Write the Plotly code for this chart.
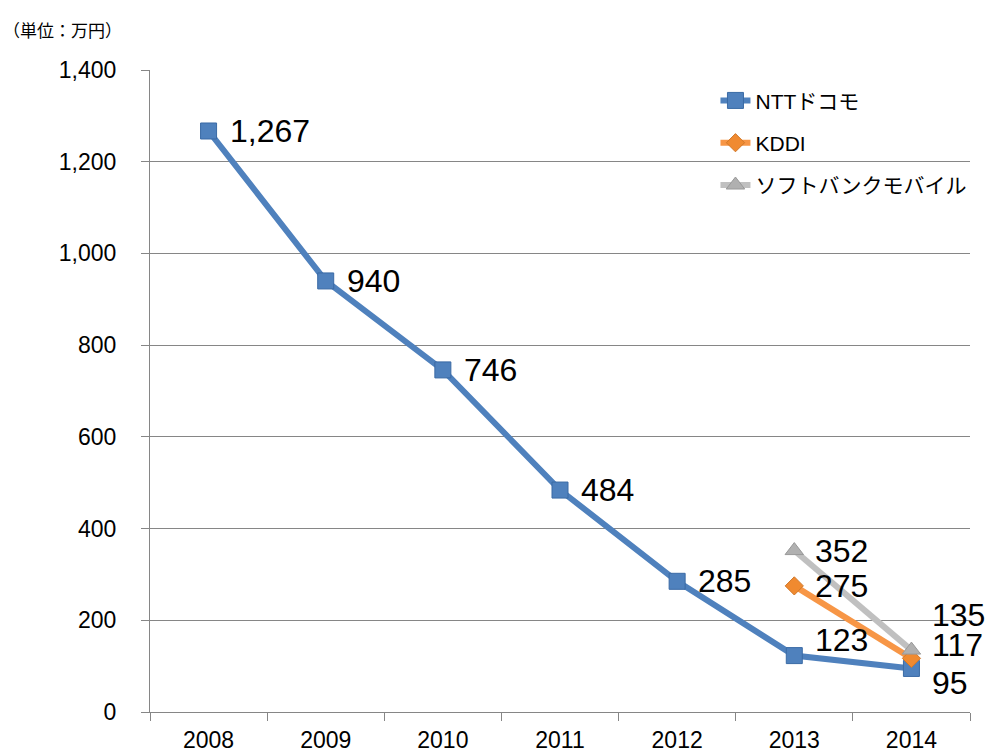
import plotly.graph_objects as go

years = ["2008", "2009", "2010", "2011", "2012", "2013", "2014"]
ntt = [1267, 940, 746, 484, 285, 123, 95]
kddi_years = ["2013", "2014"]
kddi = [275, 117]
sb_years = ["2013", "2014"]
sb = [352, 135]
y_ticks = [0, 200, 400, 600, 800, 1000, 1200, 1400]

fig = go.Figure()

fig.add_trace(go.Scatter(
    x=years, y=ntt, name="NTTドコモ", mode="lines+markers", legendgroup="a",
    line=dict(color="#4F81BD", width=6),
    marker=dict(symbol="square", size=16, color="#4F81BD",
                line=dict(color="#3A6AA5", width=1)),
))
fig.add_trace(go.Scatter(
    x=kddi_years, y=kddi, name="KDDI", mode="lines+markers", legendgroup="b",
    line=dict(color="#F79646", width=6),
    marker=dict(symbol="diamond", size=14, color="#F08A30",
                line=dict(color="#D0782A", width=1)),
))
fig.add_trace(go.Scatter(
    x=sb_years, y=sb, name="ソフトバンクモバイル", mode="lines+markers", legendgroup="c",
    line=dict(color="#C0C0C0", width=6),
    marker=dict(symbol="triangle-up", size=16, color="#B0B0B0",
                line=dict(color="#999999", width=1)),
))

# data labels, vertical offsets in px
def add_labels(xs, vals, dys):
    for yr, v, dy in zip(xs, vals, dys):
        fig.add_annotation(x=years.index(yr), y=v, text=f"{v:,}", showarrow=False,
                           xanchor="left", yanchor="middle", xshift=19, yshift=dy,
                           font=dict(size=32, color="#000000"))

add_labels(years, ntt, [0, 0, 0, 0, 0, 16, -15])
add_labels(kddi_years, kddi, [0, 13])
add_labels(sb_years, sb, [0, 35])

fig.add_annotation(x=0, y=1, xref="paper", yref="paper", xshift=-149, yshift=41,
                   text="（単位：万円）", showarrow=False, xanchor="left", yanchor="middle",
                   font=dict(size=17, color="#000000", family="Noto Sans CJK JP"))

fig.update_layout(
    width=989, height=749,
    margin=dict(l=150, r=19, t=70, b=37),
    paper_bgcolor="white", plot_bgcolor="white",
    font=dict(family="Liberation Sans, Arial, Noto Sans CJK JP", color="#000000"),
    showlegend=True,
    legend=dict(x=1.003, y=0.984, xanchor="right", yanchor="top", traceorder="grouped",
                bgcolor="rgba(0,0,0,0)", font=dict(size=21), tracegroupgap=12),
    xaxis=dict(type="category", showgrid=False, showline=True, linecolor="#868686",
               linewidth=1, ticks="outside", tickson="boundaries", ticklen=8,
               tickcolor="#868686", tickfont=dict(size=23), range=[-0.5, 6.5],
               ticklabelstandoff=7, automargin=False),
    yaxis=dict(range=[0, 1400], tickvals=y_ticks, tickformat=",", showgrid=True,
               gridcolor="#868686", gridwidth=1, showline=True, linecolor="#868686",
               ticks="outside", ticklen=8, tickcolor="#868686", automargin=False,
               tickfont=dict(size=23), zeroline=False, ticklabelstandoff=20),
)

# page has a default 8px body margin; drop it so the figure fills the window
fig.write_html("out.html", config={"displayModeBar": False},
               post_script="document.body.style.margin='0';document.body.style.overflow='hidden';")
